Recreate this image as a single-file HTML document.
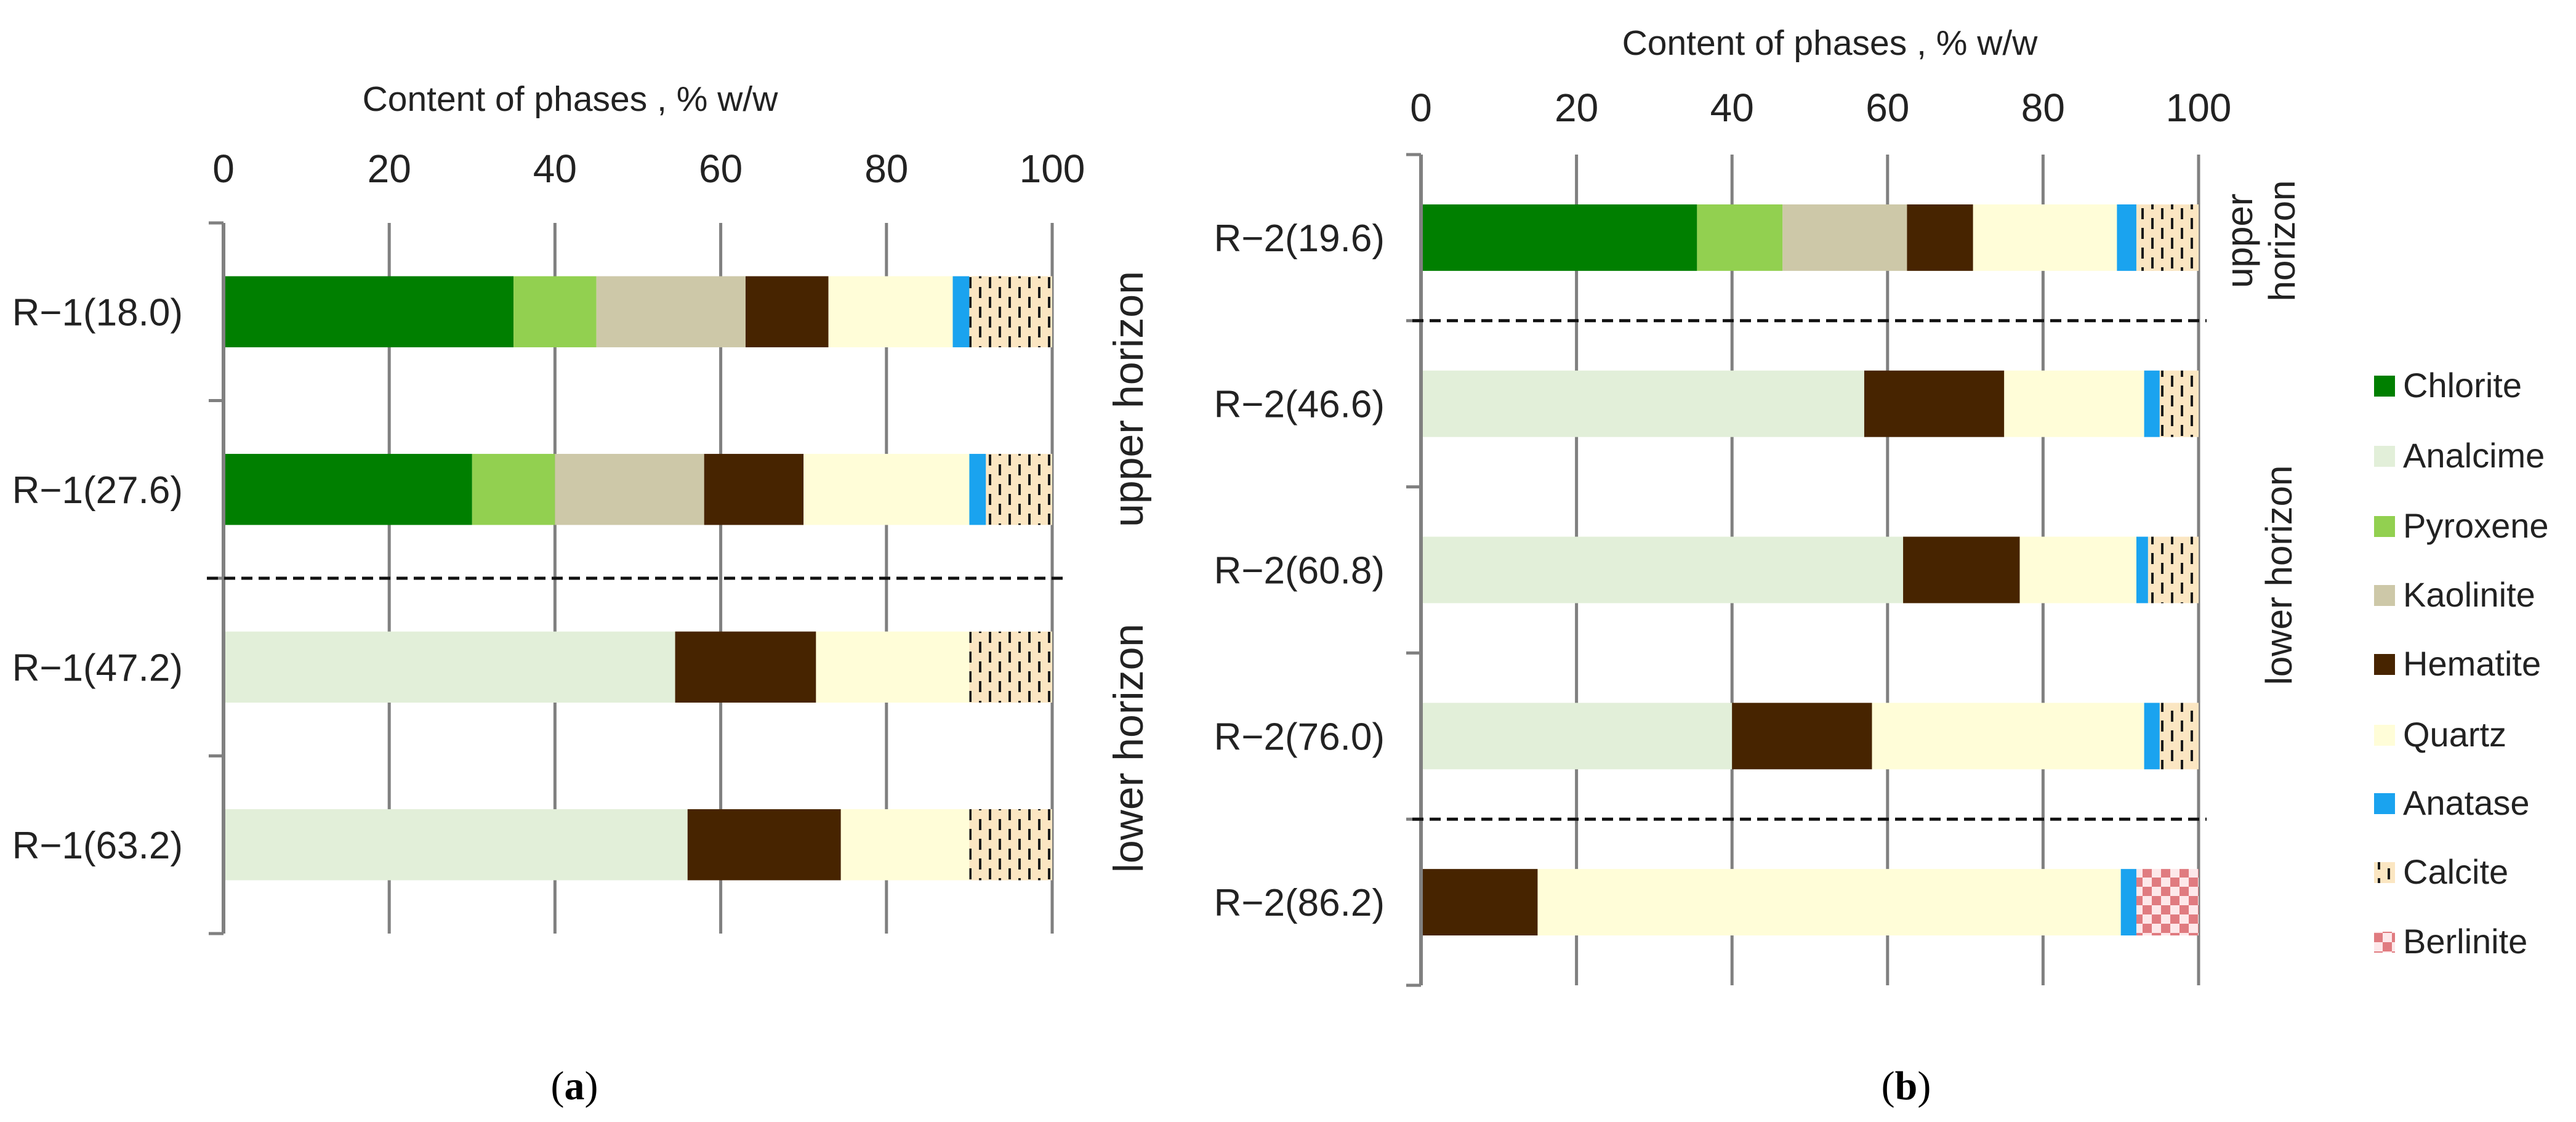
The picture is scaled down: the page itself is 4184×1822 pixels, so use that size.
<!DOCTYPE html>
<html><head><meta charset="utf-8"><style>
html,body{margin:0;padding:0;background:#fff;}
svg{display:block;font-family:"Liberation Sans","DejaVu Sans",sans-serif;}
</style></head><body>
<svg id="chart" width="4184" height="1822" viewBox="0 0 4184 1822" xmlns="http://www.w3.org/2000/svg">
<defs>
<pattern id="calcite" patternUnits="userSpaceOnUse" width="32" height="64" x="0" y="0">
<rect width="32" height="64" fill="#fbe6c2"/>
<rect x="6" y="2" width="4" height="18" fill="#1a1a1a"/>
<rect x="6" y="34" width="4" height="18" fill="#1a1a1a"/>
<rect x="22" y="18" width="4" height="18" fill="#1a1a1a"/>
<rect x="22" y="50" width="4" height="14" fill="#1a1a1a"/>
<rect x="22" y="0" width="4" height="4" fill="#1a1a1a"/>
</pattern>
<pattern id="berlinite" patternUnits="userSpaceOnUse" width="30" height="30">
<rect width="30" height="30" fill="#fde8ea"/>
<rect width="15" height="15" fill="#e07b80"/>
<rect x="15" y="15" width="15" height="15" fill="#e07b80"/>
</pattern>
</defs>
<g id="left"></g>
<g id="right"></g>
<g id="legend"></g>
<text x="933" y="1785" font-family="Liberation Serif, serif" font-size="66" text-anchor="middle">(<tspan font-weight="bold">a</tspan>)</text>
<text x="3096" y="1785" font-family="Liberation Serif, serif" font-size="66" text-anchor="middle">(<tspan font-weight="bold">b</tspan>)</text>
</svg>
<script>
const phases = ["Chlorite","Analcime","Pyroxene","Kaolinite","Hematite","Quartz","Anatase","Calcite","Berlinite"];
const fills = ["#007f00","#e2efd9","#92d050","#cdc8a8","#472400","#fffdd8","#1aa3ef","url(#calcite)","url(#berlinite)"];
const ticks = [0,20,40,60,80,100];
const catsA = ["R\u22121(18.0)","R\u22121(27.6)","R\u22121(47.2)","R\u22121(63.2)"];
// order: Chlorite, Analcime, Pyroxene, Kaolinite, Hematite, Quartz, Anatase, Calcite, Berlinite
const valsA = [
  [35,0,10,18,10,15,2,10,0],
  [30,0,10,18,12,20,2,8,0],
  [0,54.5,0,0,17,18.5,0,10,0],
  [0,56,0,0,18.5,15.5,0,10,0]
];
const catsB = ["R\u22122(19.6)","R\u22122(46.6)","R\u22122(60.8)","R\u22122(76.0)","R\u22122(86.2)"];
const valsB = [
  [35.5,0,11,16,8.5,18.5,2.5,8,0],
  [0,57,0,0,18,18,2,5,0],
  [0,62,0,0,15,15,1.5,6.5,0],
  [0,40,0,0,18,35,2,5,0],
  [0,0,0,0,15,75,2,0,8]
];
const NS="http://www.w3.org/2000/svg";
function mk(parent,tag,attrs,txt){const e=document.createElementNS(NS,tag);for(const k in attrs)e.setAttribute(k,attrs[k]);if(txt!==undefined)e.textContent=txt;parent.appendChild(e);return e;}

function drawChart(g,cfg,cats,vals){
  const x=v=>cfg.x0+(cfg.x1-cfg.x0)*v/100;
  const band=(cfg.y1-cfg.y0)/cats.length;
  const yc=i=>cfg.y0+band*(i+0.5);
  const bh=band*0.4;
  ticks.forEach(t=>{
    const l=mk(g,'line',{x1:x(t),x2:x(t),y1:cfg.y0,y2:cfg.y1,stroke:'#808080','stroke-width':5});
    
    
    const tx=mk(g,'text',{x:x(t),y:cfg.tickY,'font-size':64,'text-anchor':'middle',fill:'#222'},String(t));
    
    
  });
  for(let i=0;i<=cats.length;i++){
    const yy=cfg.y0+band*i;
    const tm=mk(g,'line',{x1:cfg.x0-24,x2:cfg.x0,y1:yy,y2:yy,stroke:'#808080','stroke-width':5});
    
    
  }
  const title=mk(g,'text',{x:cfg.titleX,y:cfg.titleY,'font-size':57,'text-anchor':'middle',fill:'#222'},'Content of phases , % w/w');
  
  
  cats.forEach((c,i)=>{
    let acc=0;
    vals[i].forEach((v,j)=>{
      if(v<=0)return;
      const r=mk(g,'rect',{x:x(acc),y:yc(i)-bh/2,width:x(acc+v)-x(acc),height:bh,fill:fills[j]});
      
      
      acc+=v;
    });
    const lb=mk(g,'text',{x:cfg.labelX,y:yc(i)+22,'font-size':62,'text-anchor':'end',fill:'#222'},c);
    
    
  });
  const ax=mk(g,'line',{x1:x(0),x2:x(0),y1:cfg.y0,y2:cfg.y1,stroke:'#808080','stroke-width':6});
  
  
  cfg.dashes.forEach(k=>{
    const yy=cfg.y0+band*k;
    const d=mk(g,'line',{x1:cfg.dx0,x2:cfg.dx1,y1:yy,y2:yy,stroke:'#111','stroke-width':5,'stroke-dasharray':'18 10'});
    
    
  });
}

drawChart(document.getElementById('left'),{x0:363,x1:1709,y0:362,y1:1516,tickY:296,titleX:926,titleY:180,labelX:297,dashes:[2],dx0:336,dx1:1733},catsA,valsA);
drawChart(document.getElementById('right'),{x0:2308,x1:3571,y0:251,y1:1600,tickY:197,titleX:2972,titleY:89,labelX:2249,dashes:[1,4],dx0:2294,dx1:3584},catsB,valsB);

function rot(txt,cx,cy,fs,name){
  const t=mk(document.getElementById('chart'),'text',{x:0,y:0,'font-size':fs,'text-anchor':'middle',fill:'#222',transform:`translate(${cx},${cy}) rotate(-90)`},txt);
  
  
}
rot('upper horizon',1856,648,68,'upper-horizon-label-a');
rot('lower horizon',1856,1215,68,'lower-horizon-label-a');
rot('upper',3658,391,60,'upper-horizon-label-b');
rot('horizon',3727,391,60,'upper-horizon-label-b2');
rot('lower horizon',3722,934,60,'lower-horizon-label-b');

const lg=document.getElementById('legend');
const legY=[627,741,855,967,1079,1194,1305,1417,1530];
phases.forEach((p,i)=>{
  const s=mk(lg,'rect',{x:3856,y:legY[i]-17,width:34,height:34,fill:fills[i]});
  
  
  const t=mk(lg,'text',{x:3903,y:legY[i]+18,'font-size':56,fill:'#222'},p);
  
  
});
</script>
</body></html>
